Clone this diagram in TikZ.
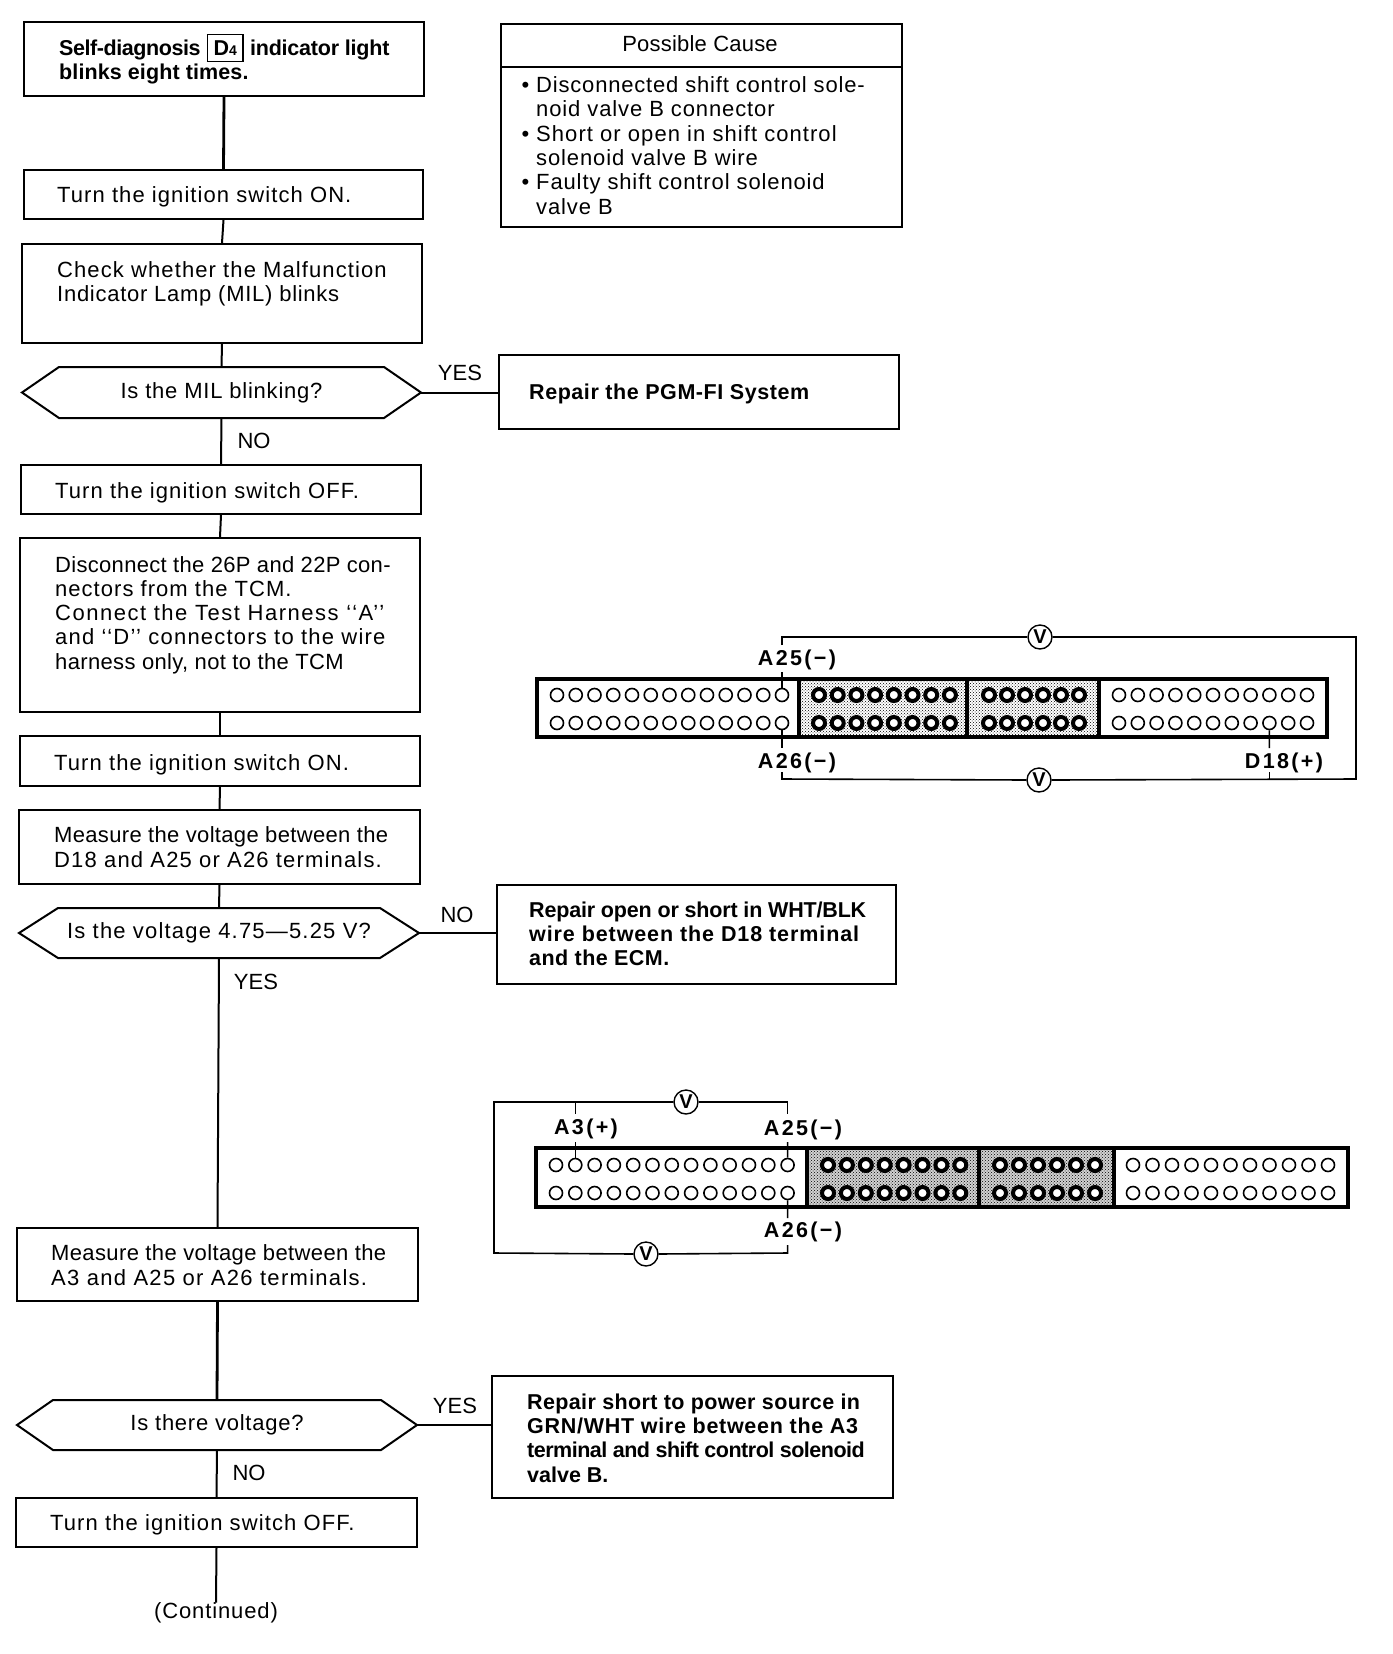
\documentclass[tikz,border=0pt]{standalone}
\usepackage{fontspec}
\setmainfont{Liberation Sans}
\usetikzlibrary{patterns}
\newcommand{\rgfont}{\fontsize{22}{24.3}\selectfont\addfontfeatures{LetterSpace=4}}
\newcommand{\bdfont}{\fontsize{21.5}{24.3}\selectfont\bfseries\addfontfeatures{LetterSpace=2}}
\newcommand{\lbfont}{\fontsize{21.5}{24}\selectfont\bfseries\addfontfeatures{LetterSpace=11}}
\newcommand{\lsp}[2]{{\addfontfeatures{LetterSpace=#1}#2}}
\tikzset{
  flowbox/.style={draw=black,line width=2pt,rectangle,inner sep=0pt,fill=white},
  hexbase/.style={rectangle,inner sep=0pt,font=\rgfont},
  rgtext/.style={anchor=west,inner sep=0pt,align=left,font=\rgfont},
  bdtext/.style={anchor=west,inner sep=0pt,align=left,font=\bdfont},
  yesno/.style={inner sep=0pt,font=\rgfont},
  termlabel/.style={inner sep=0pt,font=\lbfont},
  flowline/.style={draw=black,line width=2pt},
  heavyline/.style={draw=black,line width=2.8pt},
  wire/.style={draw=black,line width=1.6pt},
  pin/.style={circle,draw=black,line width=1.6pt,fill=white,minimum size=13pt,inner sep=0pt},
  darkpin/.style={circle,draw=black,line width=4pt,fill=white,minimum size=12pt,inner sep=0pt},
  meter/.style={circle,draw=black,line width=1.4pt,fill=white,minimum size=24pt,inner sep=0pt,font=\fontsize{20}{20}\selectfont\bfseries},
  shell/.style={draw=black,line width=3.6pt},
  panel/.style={pattern=crosshatch dots,pattern color=black}
}
\newcommand{\flowrect}[5]{\node[flowbox,minimum width={#4pt-#2pt},minimum height={#5pt-#3pt}] (#1) at ({(#2+#4)/2},{(#3+#5)/2}) {};}
\newcommand{\flowhex}[7]{%
  \draw[line width=2pt,fill=white,line join=miter] (#2,{(#3+#5)/2}) -- ({#2+#6},#3) -- ({#4-#6},#3) -- (#4,{(#3+#5)/2}) -- ({#4-#6},#5) -- ({#2+#6},#5) -- cycle;
  \node[hexbase,minimum width={#4pt-#2pt},minimum height={#5pt-#3pt}] (#1) at ({(#2+#4)/2},{(#3+#5)/2}) {#7};}
\begin{document}
\begin{tikzpicture}[x=1pt,y=-1pt]
\useasboundingbox (0,0) rectangle (1392,1654);
% flow boxes
\flowrect{b1}{24}{22}{424}{96}
\flowrect{b2}{24}{170}{423}{219}
\flowrect{b3}{22}{244}{422}{343}
\flowhex{d1}{22}{367}{421}{418}{37}{\lsp{3.5}{\raisebox{-1pt}{Is the MIL blinking?}}}
\flowrect{b4}{21}{465}{421}{514}
\flowrect{b5}{20}{538}{420}{712}
\flowrect{b6}{20}{736}{420}{786}
\flowrect{b7}{19}{810}{420}{884}
\flowhex{d2}{19}{908}{419}{958}{39}{\lsp{5.4}{\raisebox{-2pt}{Is the voltage 4.75—5.25 V?}}}
\flowrect{b8}{17}{1228}{418}{1301}
\flowhex{d3}{17}{1400}{417}{1450}{36}{\lsp{3.4}{\raisebox{-2pt}{Is there voltage?}}}
\flowrect{b9}{16}{1498}{417}{1547}
\flowrect{pc}{501}{24}{902}{227}
\flowrect{r1}{499}{355}{899}{429}
\flowrect{r2}{497}{885}{896}{984}
\flowrect{r3}{492}{1376}{893}{1498}
\coordinate (pcl) at (501,67);
\coordinate (pcr) at (902,67);
\draw[flowline] (pcl) -- (pcr);
\node[inner sep=0pt,font=\rgfont] (cont) at (216,1613) {(Continued)};
% connectors
\draw[heavyline] (b1.south) -- (b2.north);
\draw[flowline] (b2.south) -- (b3.north);
\draw[flowline] (b3.south) -- (d1.north);
\draw[flowline] (d1.south) -- (b4.north);
\draw[flowline] (b4.south) -- (b5.north);
\draw[line width=1.2pt] (b5.south) -- (b6.north);
\draw[flowline] (b6.south) -- (b7.north);
\draw[flowline] (b7.south) -- (d2.north);
\draw[flowline] (d2.south) -- (b8.north);
\draw[heavyline] (b8.south) -- (d3.north);
\draw[flowline] (d3.south) -- (b9.north);
\draw[flowline] (b9.south) -- (cont.north);
\draw[flowline] (d1.east) -- (d1.east -| r1.west);
\draw[flowline] (d2.east) -- (d2.east -| r2.west);
\draw[flowline] (d3.east) -- (d3.east -| r3.west);
% flow texts
\node[bdtext] (t1) at (59,62) {\lsp{-2}{Self-diagnosis} \smash{\setlength{\fboxsep}{5.5pt}\setlength{\fboxrule}{1.2pt}\fbox{D{\fontsize{14}{14}\selectfont 4}}} \lsp{-1}{indicator light}\\\lsp{0.5}{blinks eight times.}};
\node[rgtext] (t2) at (57,197) {\lsp{4.9}{Turn the ignition switch ON.}};
\node[rgtext] (t3) at (57,284) {\lsp{5}{Check whether the Malfunction}\\\lsp{3.3}{Indicator Lamp (MIL) blinks}};
\node[rgtext] (t4) at (55,492.5) {\lsp{4.9}{Turn the ignition switch OFF.}};
\node[rgtext] (t5) at (55,615) {\lsp{1.4}{Disconnect the 26P and 22P con-}\\\lsp{4.7}{nectors from the TCM.}\\\lsp{6.9}{Connect the Test Harness ‘‘A’’}\\\lsp{5.5}{and ‘‘D’’ connectors to the wire}\\\lsp{1.6}{harness only, not to the TCM}};
\node[rgtext] (t6) at (54,765) {\lsp{5}{Turn the ignition switch ON.}};
\node[rgtext] (t7) at (54,847) {\lsp{1.5}{Measure the voltage between the}\\\lsp{5.3}{D18 and A25 or A26 terminals.}};
\node[rgtext] (t8) at (51,1265) {\lsp{1.7}{Measure the voltage between the}\\\lsp{5.9}{A3 and A25 or A26 terminals.}};
\node[rgtext] (t9) at (50,1525) {\lsp{5}{Turn the ignition switch OFF.}};
\node[inner sep=0pt,font=\rgfont] (pch) at (700,44) {\lsp{1}{Possible Cause}};
\node[rgtext] (pct) at (536,145.5) {\llap{•\hspace{7pt}}\lsp{3.7}{Disconnected shift control sole-}\\noid valve B connector\\\llap{•\hspace{7pt}}\lsp{4.8}{Short or open in shift control}\\solenoid valve B wire\\\llap{•\hspace{7pt}}Faulty shift control solenoid\\valve B};
\node[bdtext] (r1t) at (529,394) {\lsp{2.6}{Repair the PGM-FI System}};
\node[bdtext] (r2t) at (529,934) {\lsp{-0.85}{Repair open or short in WHT/BLK}\\\lsp{4.2}{wire between the D18 terminal}\\and the ECM.};
\node[bdtext] (r3t) at (527,1438) {\lsp{1.7}{Repair short to power source in}\\\lsp{3.3}{GRN/WHT wire between the A3}\\\lsp{-2.3}{terminal and shift control solenoid}\\\lsp{0}{valve B.}};
\node[yesno] (y1) at (460,373) {\lsp{0}{YES}};
\node[yesno] (n1) at (254,441) {\lsp{0}{NO}};
\node[yesno] (n2) at (457,915) {\lsp{0}{NO}};
\node[yesno] (y2) at (256,982) {\lsp{0}{YES}};
\node[yesno] (y3) at (455,1406) {\lsp{0}{YES}};
\node[yesno] (n3) at (249,1473) {\lsp{0}{NO}};
% upper connector diagram
\fill[panel] (799,679) rectangle (967,737);
\fill[panel] (967,679) rectangle (1099,737);
\draw[shell] (537,679) rectangle (1327,737);
\draw[shell] (799,679) -- (799,737);
\draw[shell] (967,679) -- (967,737);
\draw[shell] (1099,679) -- (1099,737);
\foreach \i in {1,...,13}{
  \node[pin] (ta\i) at ({557+(\i-1)*18.75},695) {};
  \node[pin] (tb\i) at ({557+(\i-1)*18.75},723) {};}
\foreach \i in {1,...,8}{
  \node[darkpin] (tc\i) at ({819+(\i-1)*18.7},695) {};
  \node[darkpin] (td\i) at ({819+(\i-1)*18.7},723) {};}
\foreach \i in {1,...,6}{
  \node[darkpin] (te\i) at ({989+(\i-1)*18},695) {};
  \node[darkpin] (tf\i) at ({989+(\i-1)*18},723) {};}
\foreach \i in {1,...,11}{
  \node[pin] (tg\i) at ({1119+(\i-1)*18.8},695) {};
  \node[pin] (th\i) at ({1119+(\i-1)*18.8},723) {};}
\node[termlabel] (la25) at (797,660) {A25(−)};
\node[termlabel] (la26) at (797,763) {A26(−)};
\node[termlabel] (ld18) at (1284,763) {D18(+)};
\node[meter] (vt) at (1040,637) {V};
\node[meter] (vb) at (1039,780) {V};
\coordinate (c1) at (782,637);
\coordinate (c1b) at (782,645);
\coordinate (c2) at (782,672);
\coordinate (c3) at (1356,637);
\coordinate (c4) at (1356,779);
\coordinate (c5) at (782,779);
\coordinate (c6) at (782,772);
\coordinate (c7) at (782,748);
\coordinate (c8) at (1269.4,748);
\coordinate (c9) at (1269.4,772);
\coordinate (c10) at (1269.4,779);
\draw[wire] (c1b) -- (c1) -- (vt.west);
\draw[wire] (vt.east) -- (c3) -- (c4) -- (vb.east);
\draw[wire] (vb.west) -- (c5) -- (c6);
\draw[wire] (c2) -- (ta13.north);
\draw[wire] (tb13.south) -- (c7);
\draw[wire] (th9.south) -- (c8);
\draw[wire] (c9) -- (c10);
% lower connector diagram
\fill[gray!35] (807,1148) rectangle (1114,1207);
\fill[panel] (807,1148) rectangle (979,1207);
\fill[panel] (979,1148) rectangle (1114,1207);
\draw[shell] (536,1148) rectangle (1348,1207);
\draw[shell] (807,1148) -- (807,1207);
\draw[shell] (979,1148) -- (979,1207);
\draw[shell] (1114,1148) -- (1114,1207);
\foreach \i in {1,...,13}{
  \node[pin] (ua\i) at ({556+(\i-1)*19.3},1165) {};
  \node[pin] (ub\i) at ({556+(\i-1)*19.3},1193) {};}
\foreach \i in {1,...,8}{
  \node[darkpin] (uc\i) at ({828+(\i-1)*18.9},1165) {};
  \node[darkpin] (ud\i) at ({828+(\i-1)*18.9},1193) {};}
\foreach \i in {1,...,6}{
  \node[darkpin] (ue\i) at ({1000+(\i-1)*19},1165) {};
  \node[darkpin] (uf\i) at ({1000+(\i-1)*19},1193) {};}
\foreach \i in {1,...,11}{
  \node[pin] (ug\i) at ({1133+(\i-1)*19.5},1165) {};
  \node[pin] (uh\i) at ({1133+(\i-1)*19.5},1193) {};}
\node[termlabel] (ma3) at (586,1129) {A3(+)};
\node[termlabel] (ma25) at (803,1130) {A25(−)};
\node[termlabel] (ma26) at (803,1232) {A26(−)};
\node[meter] (wt) at (686,1102) {V};
\node[meter] (wb) at (646,1254) {V};
\coordinate (e1) at (494,1102);
\coordinate (e2) at (494,1253);
\coordinate (e3) at (787.6,1102);
\coordinate (e4) at (787.6,1114);
\coordinate (e5) at (787.6,1142);
\coordinate (e6) at (787.6,1253);
\coordinate (e7) at (787.6,1245);
\coordinate (e8) at (787.6,1218);
\coordinate (e9) at (575.3,1102);
\coordinate (e10) at (575.3,1114);
\coordinate (e11) at (575.3,1142);
\draw[wire] (wt.west) -- (e1) -- (e2) -- (wb.west);
\draw[wire] (wb.east) -- (e6) -- (e7);
\draw[wire] (wt.east) -- (e3) -- (e4);
\draw[wire] (e5) -- (ua13.north);
\draw[wire] (ub13.south) -- (e8);
\draw[wire] (e9) -- (e10);
\draw[wire] (e11) -- (ua2.north);
\end{tikzpicture}
\end{document}
